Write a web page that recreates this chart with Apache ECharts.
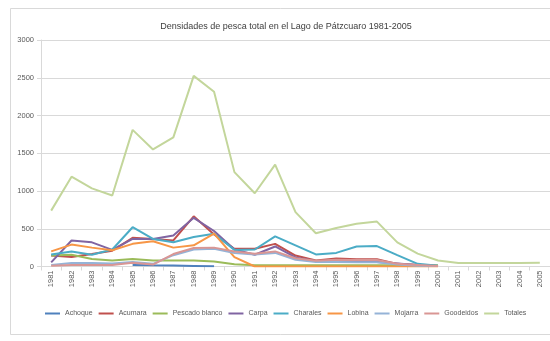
<!DOCTYPE html>
<html>
<head>
<meta charset="utf-8">
<script src="https://cdn.jsdelivr.net/npm/echarts@6/dist/echarts.min.js"></script>
<style>
  html, body { margin: 0; padding: 0; background: #ffffff; }
  #chart { width: 550px; height: 341px; }
</style>
</head>
<body>
<div id="chart"></div>
<script>
// Años de la serie
const years = ['1981','1982','1983','1984','1985','1986','1987','1988','1989','1990',
  '1991','1992','1993','1994','1995','1996','1997','1998','1999','2000',
  '2001','2002','2003','2004','2005'];

// Densidades por especie (null = sin registro)
const achoque = [null,null,null,null,20,15,12,8,3,null,null,null,null,null,null,null,null,null,null,null,null,null,null,null,null];
const acumara = [145,125,165,210,380,365,345,665,425,235,235,300,145,80,105,95,95,35,20,5,null,null,null,null,null];
const pescadoBlanco = [145,155,100,80,100,80,80,80,65,30,15,15,15,15,15,15,15,15,15,15,null,null,null,null,null];
const carpa = [55,345,320,220,365,365,410,645,470,225,155,265,120,70,65,60,60,40,20,5,null,null,null,null,null];
const charales = [160,200,155,225,520,365,320,390,435,220,225,400,280,160,180,265,270,150,35,10,null,null,null,null,null];
const lobina = [200,290,250,215,300,335,250,280,435,125,0,0,0,0,0,0,0,0,0,0,null,null,null,null,null];
const mojarra = [20,45,45,40,60,35,150,225,235,180,160,180,90,60,60,55,55,25,10,5,null,null,null,null,null];
const goodeidos = [10,20,20,20,50,25,165,245,250,200,170,200,110,75,90,85,85,35,20,5,null,null,null,null,null];
const totales = [740,1190,1035,940,1810,1550,1710,2525,2315,1250,970,1350,720,440,510,565,595,320,170,80,45,45,45,45,50];

const seriesDefs = [
  ['Achoque', achoque, '#4F81BD'],
  ['Acumara', acumara, '#C0504D'],
  ['Pescado blanco', pescadoBlanco, '#9BBB59'],
  ['Carpa', carpa, '#8064A2'],
  ['Charales', charales, '#4BACC6'],
  ['Lobina', lobina, '#F79646'],
  ['Mojarra', mojarra, '#95B3D7'],
  ['Goodeidos', goodeidos, '#D99694'],
  ['Totales', totales, '#C3D69B']
];

const chart = echarts.init(document.getElementById('chart'), null, { renderer: 'canvas' });

const fontFam = '"Liberation Sans", Arial, sans-serif';

chart.setOption({
  animation: false,
  backgroundColor: '#ffffff',
  title: {
    text: 'Densidades de pesca total en el Lago de Pátzcuaro 1981-2005',
    left: 281,
    top: 17,
    textAlign: 'center',
    textStyle: { fontFamily: fontFam, fontSize: 9, fontWeight: 'normal', color: '#404040' }
  },
  graphic: [{
    type: 'rect',
    shape: { x: 10.5, y: 8.5, width: 560, height: 326 },
    style: { fill: 'none', stroke: '#D9D9D9', lineWidth: 1 },
    silent: true,
    z: -10
  }],
  legend: {
    left: 40,
    top: 305,
    width: 505,
    icon: 'rect',
    itemWidth: 15,
    itemHeight: 2,
    itemGap: 6,
    textStyle: { fontFamily: fontFam, fontSize: 7, color: '#595959' },
    data: seriesDefs.map(d => d[0])
  },
  grid: { left: 41, top: 40, width: 515, height: 226.5, containLabel: false },
  xAxis: {
    type: 'category',
    data: years,
    boundaryGap: true,
    axisLine: { lineStyle: { color: '#D9D9D9', width: 1 } },
    axisTick: { show: true, length: 4, lineStyle: { color: '#D9D9D9' } },
    axisLabel: {
      rotate: 90, interval: 0, margin: 4,
      fontFamily: fontFam, fontSize: 7.5, color: '#595959'
    }
  },
  yAxis: {
    type: 'value',
    min: 0, max: 3000, interval: 500,
    axisLine: { show: true, lineStyle: { color: '#D9D9D9', width: 1 } },
    axisTick: { show: true, length: 4, lineStyle: { color: '#D9D9D9' } },
    splitLine: { lineStyle: { color: '#D9D9D9', width: 1 } },
    axisLabel: {
      margin: 7, fontFamily: fontFam, fontSize: 7.5, color: '#595959',
      formatter: v => String(v)
    }
  },
  series: seriesDefs.map(([name, values, color]) => ({
    name: name,
    type: 'line',
    data: values.map(v => (v === null ? '-' : v)),
    showSymbol: false,
    symbol: 'none',
    connectNulls: false,
    lineStyle: { color: color, width: 2 },
    itemStyle: { color: color }
  }))
});
</script>
</body>
</html>
